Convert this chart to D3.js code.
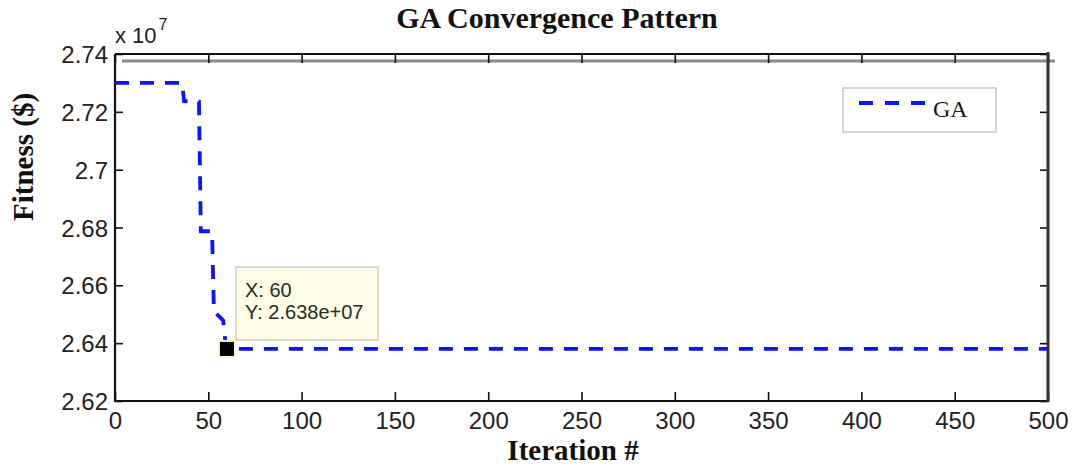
<!DOCTYPE html>
<html>
<head>
<meta charset="utf-8">
<script src="https://cdn.jsdelivr.net/npm/d3@7"></script>
<style>
  html, body { margin: 0; padding: 0; background: #fff; }
  svg { display: block; }
</style>
</head>
<body>
<script>
// GA best fitness per iteration (break points of the convergence curve)
const iterations = [0, 36, 37, 45, 46, 52, 53, 57, 58, 59, 60, 500];
const fitness = [27300000, 27300000, 27237000, 27235000, 26787000, 26787000,
                 26510000, 26485000, 26478000, 26412000, 26380000, 26380000];
const xTicks = [0, 50, 100, 150, 200, 250, 300, 350, 400, 450, 500];
const yTicks = [26200000, 26400000, 26600000, 26800000, 27000000, 27200000, 27400000];
const seriesName = "GA";
const tipIndex = 10; // data tip at iteration 60

const W = 1080, H = 470;
const m = { left: 115, right: 1048, top: 54, bottom: 401 };

const svg = d3.select("body").append("svg")
  .attr("width", W).attr("height", H);
svg.append("rect").attr("width", W).attr("height", H).attr("fill", "#fff");

const x = d3.scaleLinear().domain([0, 500]).range([m.left, m.right]);
const y = d3.scaleLinear().domain([26200000, 27400000]).range([m.bottom, m.top]);

const tickFont = "'Liberation Sans', Arial, sans-serif";
const serif = "'Liberation Serif', 'Times New Roman', serif";
const fmtY = v => d3.format("~g")(+(v / 1e7).toFixed(4));

// reference line near the top of the plot
svg.append("line")
  .attr("x1", m.left + 7).attr("x2", m.right + 7)
  .attr("y1", y(27376000)).attr("y2", y(27376000))
  .attr("stroke", "#8a8a8a").attr("stroke-width", 3);

// bottom axis with inward ticks
const gx = svg.append("g").attr("transform", `translate(0,${m.bottom})`)
  .call(d3.axisBottom(x).tickValues(xTicks).tickSizeInner(-9).tickSizeOuter(0).tickPadding(20));
gx.select(".domain").remove();
gx.selectAll(".tick line").attr("stroke", "#111").attr("stroke-width", 1.6);
gx.selectAll(".tick text").attr("font-family", tickFont).attr("font-size", 24)
  .attr("fill", "#222").attr("dy", "0.71em").attr("y", 11);

// top axis ticks
const gt = svg.append("g").attr("transform", `translate(0,${m.top})`)
  .call(d3.axisTop(x).tickValues(xTicks).tickSizeInner(-9).tickSizeOuter(0).tickFormat(""));
gt.select(".domain").remove();
gt.selectAll(".tick line").attr("stroke", "#111").attr("stroke-width", 1.6);

// left axis
const gy = svg.append("g").attr("transform", `translate(${m.left},0)`)
  .call(d3.axisLeft(y).tickValues(yTicks).tickSizeInner(-8).tickSizeOuter(0)
    .tickPadding(7).tickFormat(fmtY));
gy.select(".domain").remove();
gy.selectAll(".tick line").attr("stroke", "#111").attr("stroke-width", 1.6);
gy.selectAll(".tick text").attr("font-family", tickFont).attr("font-size", 24)
  .attr("fill", "#222").attr("x", -7).attr("dy", "0.36em");

// right axis ticks
const gr = svg.append("g").attr("transform", `translate(${m.right},0)`)
  .call(d3.axisRight(y).tickValues(yTicks).tickSizeInner(-8).tickSizeOuter(0).tickFormat(""));
gr.select(".domain").remove();
gr.selectAll(".tick line").attr("stroke", "#111").attr("stroke-width", 1.6);

// axes box
svg.append("path")
  .attr("d", `M${m.left},${m.top}H${m.right}`)
  .attr("stroke", "#111").attr("stroke-width", 2).attr("fill", "none");
svg.append("path")
  .attr("d", `M${m.left},${m.top}V${m.bottom}H${m.right}`)
  .attr("stroke", "#111").attr("stroke-width", 2.2).attr("fill", "none");
svg.append("path")
  .attr("d", `M${m.right},${m.top - 2}V${m.bottom + 1}`)
  .attr("stroke", "#333").attr("stroke-width", 3).attr("fill", "none");

// exponent label
const ex = svg.append("text").attr("x", m.left).attr("y", 43)
  .attr("font-family", tickFont).attr("font-size", 22).attr("fill", "#222");
ex.append("tspan").text("x 10");
ex.append("tspan").attr("font-size", 16).attr("dy", -13).attr("dx", 2).text("7");

// convergence curve
const pts = iterations.map((it, i) => [it, fitness[i]]);
const line = d3.line().x(d => x(d[0])).y(d => y(d[1]));
svg.append("path").datum(pts)
  .attr("d", line)
  .attr("fill", "none").attr("stroke", "#0a14ff").attr("stroke-width", 3.8)
  .attr("stroke-dasharray", "14,11").attr("stroke-linejoin", "miter");

// data tip marker
const tx = x(iterations[tipIndex]), ty = y(fitness[tipIndex]);
svg.append("rect").attr("x", tx - 9).attr("y", ty - 9).attr("width", 18).attr("height", 18)
  .attr("fill", "#fbf6c8");
svg.append("rect").attr("x", tx - 7).attr("y", ty - 7).attr("width", 14).attr("height", 14)
  .attr("fill", "#000");

// data tip box
const tipG = svg.append("g");
tipG.append("rect").attr("x", 236).attr("y", 267).attr("width", 142).attr("height", 73)
  .attr("fill", "#fdfce6").attr("stroke", "#cfcfc0").attr("stroke-width", 1.5);
tipG.append("text").attr("x", 245).attr("y", 297)
  .attr("font-family", tickFont).attr("font-size", 20).attr("fill", "#2a2a2a")
  .text("X: " + iterations[tipIndex]);
tipG.append("text").attr("x", 245).attr("y", 319)
  .attr("font-family", tickFont).attr("font-size", 20).attr("fill", "#2a2a2a")
  .text("Y: " + d3.format(".3e")(fitness[tipIndex]).replace(/e([+-])(\d)$/, "e$10$2"));

// legend
const lg = svg.append("g");
lg.append("rect").attr("x", 843).attr("y", 88).attr("width", 153).attr("height", 44)
  .attr("fill", "#fff").attr("stroke", "#c8c8c8").attr("stroke-width", 1.5);
lg.append("line").attr("x1", 859).attr("x2", 927).attr("y1", 103).attr("y2", 103)
  .attr("stroke", "#0a14ff").attr("stroke-width", 3.8).attr("stroke-dasharray", "14,12");
lg.append("text").attr("x", 933).attr("y", 117)
  .attr("font-family", serif).attr("font-size", 24).attr("fill", "#1a1a1a")
  .text(seriesName);

// titles
svg.append("text").attr("x", 557).attr("y", 28).attr("text-anchor", "middle")
  .attr("font-family", serif).attr("font-weight", "bold").attr("font-size", 30)
  .attr("fill", "#111").text("GA Convergence Pattern");
svg.append("text").attr("x", 573).attr("y", 460).attr("text-anchor", "middle")
  .attr("font-family", serif).attr("font-weight", "bold").attr("font-size", 29)
  .attr("fill", "#111").text("Iteration #");
svg.append("text").attr("transform", "translate(33,157) rotate(-90)")
  .attr("text-anchor", "middle")
  .attr("font-family", serif).attr("font-weight", "bold").attr("font-size", 29)
  .attr("fill", "#111").text("Fitness ($)");
</script>
</body>
</html>
